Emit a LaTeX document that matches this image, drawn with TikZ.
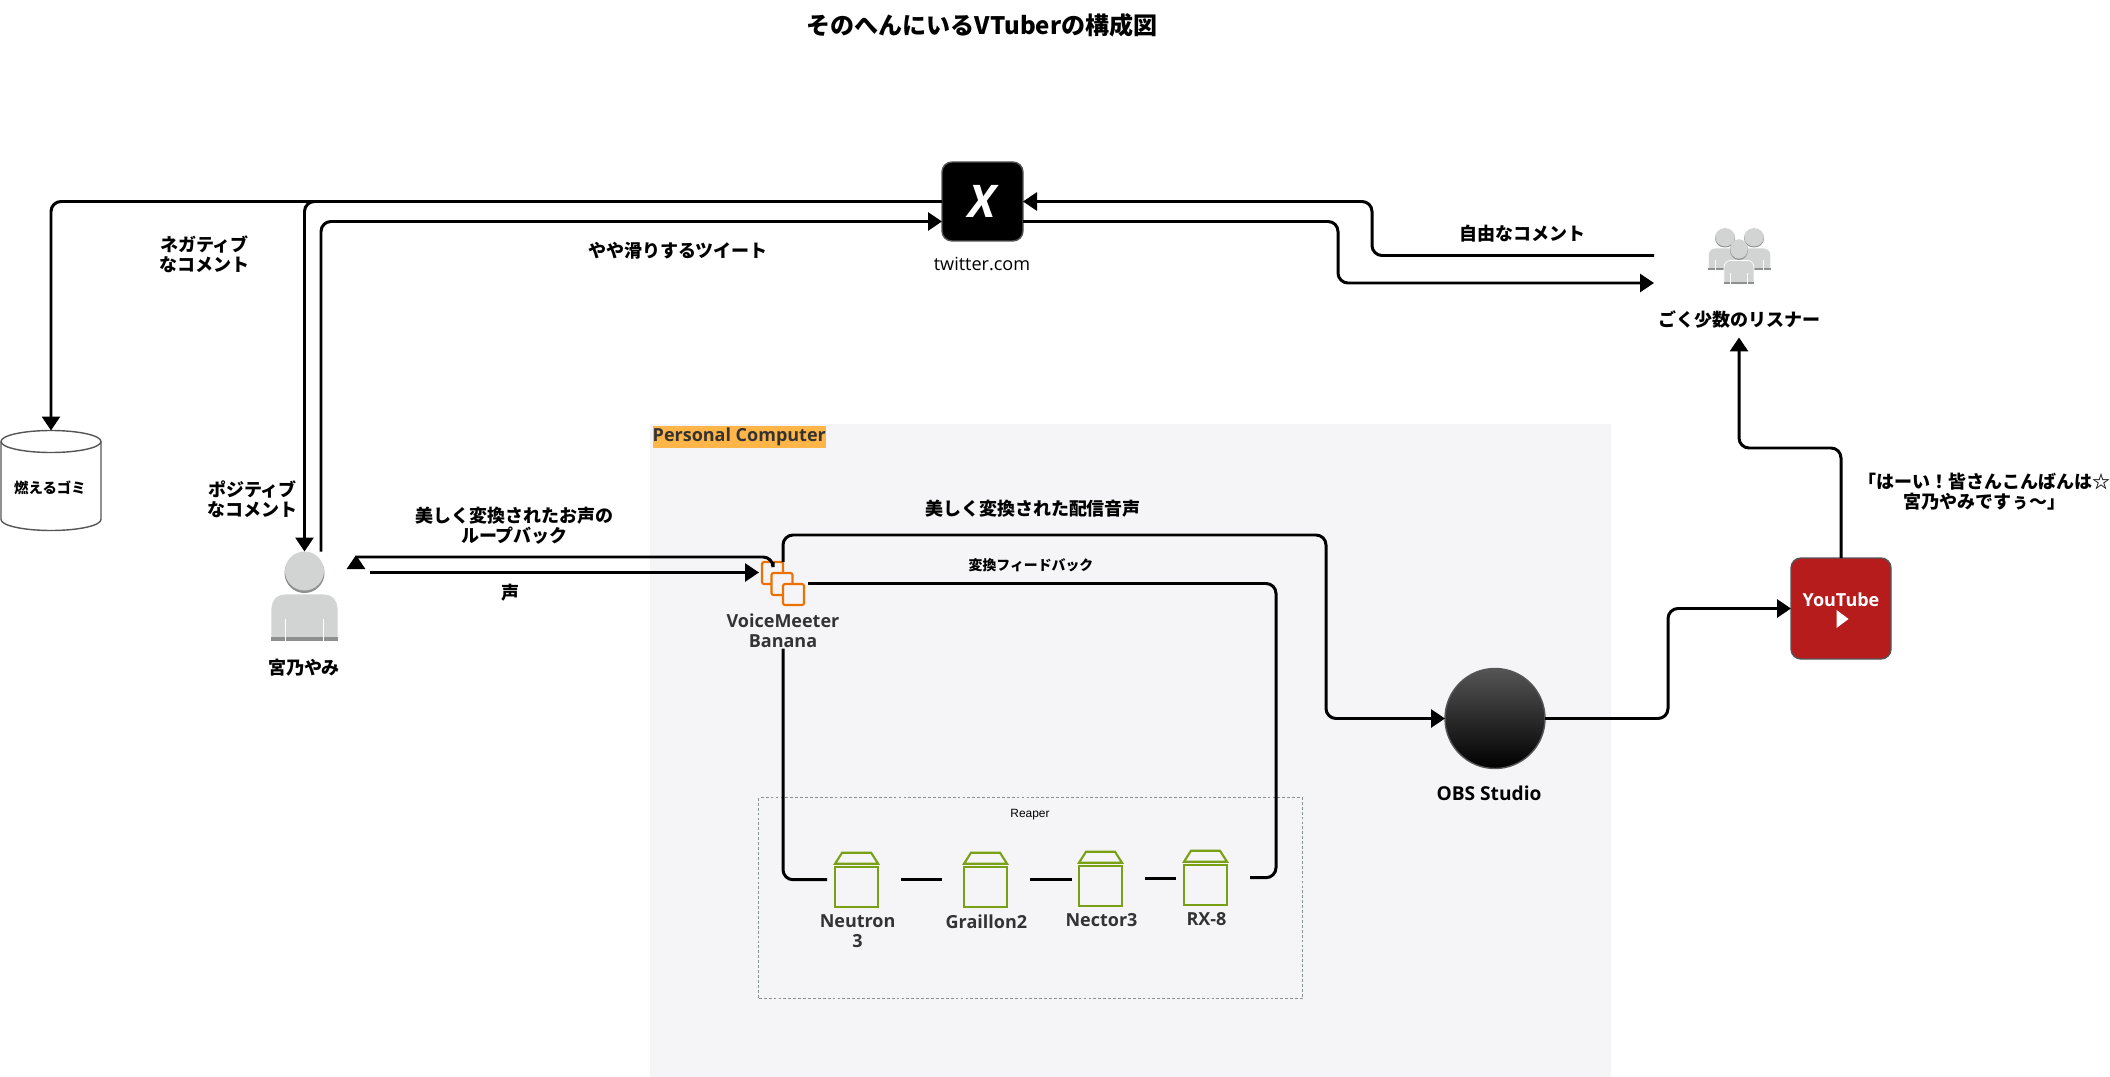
\documentclass[tikz,border=0pt]{standalone}
\usepackage{fontspec}
\setmainfont{Noto Sans CJK JP}
\newfontfamily\opensans{Open Sans}
\newfontfamily\helv{Liberation Sans}
\usepackage{xcolor}
\usetikzlibrary{positioning,arrows.meta,shapes.geometric}
\definecolor{cpc}{HTML}{F5F5F7}
\definecolor{cpclabel}{HTML}{FFB547}
\definecolor{ctext}{HTML}{333333}
\definecolor{cdash}{HTML}{879196}
\definecolor{corange}{HTML}{ED7100}
\definecolor{cgreen}{HTML}{7AA116}
\definecolor{cred}{HTML}{B71C1C}
\definecolor{cedge}{HTML}{555555}
\definecolor{cperson}{HTML}{D2D3D3}
\definecolor{cpersondark}{HTML}{8E8F8F}
\newcommand{\lblfont}{\fontsize{5.12}{5.7}\selectfont\bfseries}
\newcommand{\pluginicon}[1]{
  \draw[pluginline] (#1.south west) rectangle ([yshift=0.397cm]#1.south east);
  \draw[pluginline] ([yshift=0.43cm]#1.south west) -- ([shift={(0.07,0.54)}]#1.south west)
    -- ([shift={(-0.07,0.54)}]#1.south east) -- ([yshift=0.43cm]#1.south east) -- cycle;
}
\tikzset{
  person/.pic={
    \fill[cpersondark] (0,0.23) circle (0.2);
    \fill[cperson] (0,0.25) circle (0.195);
    \fill[cperson, draw=white, line width=0.2pt] (-0.335,-0.45) -- (-0.335,-0.14)
      .. controls (-0.335,-0.02) and (-0.26,0.02) .. (-0.19,0.02) -- (0.19,0.02)
      .. controls (0.26,0.02) and (0.335,-0.02) .. (0.335,-0.14) -- (0.335,-0.45) -- cycle;
    \fill[cpersondark] (-0.335,-0.45) rectangle (0.335,-0.41);
    \draw[white, line width=0.4pt] (-0.19,-0.23) -- (-0.19,-0.455) (0.19,-0.23) -- (0.19,-0.455);
  }
}

\begin{document}
\begin{tikzpicture}[
    % Line styles
    line/.style={line width=0.85pt, rounded corners=0.1cm},
    arrow/.style={line, -{Triangle[length=0.14cm, width=0.18cm]}},
    pluginline/.style={draw=cgreen, line width=0.6pt},
    % Text styles
    lbl/.style={font=\lblfont, align=center, inner sep=0pt},
    smalllbl/.style={font=\fontsize{3.95}{4.6}\selectfont\bfseries, align=center, inner sep=0pt},
    toollbl/.style={font=\lblfont\opensans, align=center, inner sep=0pt, text=ctext},
    % Box styles
    iconspot/.style={inner sep=0pt, outer sep=0pt},
    plugin/.style={iconspot, minimum width=0.43cm, minimum height=0.54cm},
    vmsquare/.style={draw=corange, fill=cpc, line width=0.6pt, rounded corners=0.02cm},
    appbox/.style={draw=cedge, line width=0.4pt, rounded corners=0.1cm, inner sep=0pt, outer sep=0pt},
  ]
  \useasboundingbox (0,0) rectangle (21.10,-10.77);

  % ===== Personal Computer =====
  \node[fill=cpc, anchor=north west, minimum width=9.61cm, minimum height=6.54cm, inner sep=0pt]
    (pc) at (6.49,-4.235) {};
  \node[fill=cpclabel, anchor=north west, minimum width=1.73cm, minimum height=0.22cm, inner sep=0pt,
        font=\lblfont\opensans, text=ctext] (pclabel) at (6.52,-4.25) {Personal Computer};
  \node[draw=cdash, dash pattern=on 0.8pt off 0.6pt, line width=0.25pt, anchor=north west, minimum width=5.44cm,
        minimum height=2.01cm, inner sep=0pt] (reaper) at (7.584,-7.973) {};
  \node[font=\fontsize{3.4}{4}\selectfont\helv, inner sep=0pt] (reaperlabel) at (10.30,-8.147) {Reaper};

  % Title
  \node[font=\fontsize{6.84}{8}\selectfont\bfseries, inner sep=0pt] (title) at (9.82,-0.25)
    {そのへんにいるVTuberの構成図};

  % ===== LEFT: Trash and VTuber =====
  \node[iconspot, minimum width=1.0cm, minimum height=1.0cm] (trash) at (0.51,-4.805) {};
  \draw[draw=cedge, line width=0.4pt, fill=white] ([yshift=-0.11cm]trash.north west)
    arc[start angle=180, end angle=0, x radius=0.5cm, y radius=0.11cm]
    -- ([yshift=0.11cm]trash.south east)
    arc[start angle=0, end angle=-180, x radius=0.5cm, y radius=0.11cm] -- cycle;
  \draw[draw=cedge, line width=0.4pt] ([yshift=-0.11cm]trash.north west)
    arc[start angle=180, end angle=360, x radius=0.5cm, y radius=0.11cm];
  \node[font=\fontsize{4.1}{5}\selectfont\bfseries, inner sep=0pt] (trashlabel) at (0.50,-4.88) {燃えるゴミ};

  \pic at (3.045,-5.96) {person};
  \node[iconspot, minimum width=0.67cm, minimum height=0.89cm] (yami) at (3.045,-5.96) {};
  \node[lbl] (yamilabel) at (3.04,-6.68) {宮乃やみ};

  % ===== TOP: X =====
  \node[appbox, fill=black, minimum width=0.81cm, minimum height=0.79cm, text=white,
        font=\fontsize{12.8}{13}\selectfont\opensans\bfseries\itshape] (xicon) at (9.825,-2.015) {X};
  \node[font=\fontsize{5.14}{6}\selectfont\opensans, inner sep=0pt] (xlabel) at (9.82,-2.64) {twitter.com};

  % ===== RIGHT: Listeners =====
  \pic[xscale=0.5, yscale=0.47] at (17.25,-2.49) {person};
  \pic[xscale=0.5, yscale=0.47] at (17.54,-2.49) {person};
  \pic[xscale=0.45, yscale=0.5] at (17.39,-2.615) {person};
  \node[lbl, minimum width=1.70cm, minimum height=0.345cm] (listeners) at (17.39,-3.195) {ごく少数のリスナー};

  % ===== VoiceMeeter =====
  \node[iconspot, minimum width=0.42cm, minimum height=0.43cm] (vm) at (7.83,-5.835) {};
  \draw[vmsquare] (7.62,-5.62) rectangle (7.83,-5.84);
  \draw[vmsquare] (7.715,-5.73) rectangle (7.925,-5.95);
  \draw[vmsquare] (7.83,-5.84) rectangle (8.04,-6.05);
  \node[toollbl] (vmlabel) at (7.83,-6.31) {VoiceMeeter\\Banana};

  % ===== Reaper plugins =====
  \node[plugin] (neutron) at (8.566,-8.797) {};
  \node[plugin] (graillon) at (9.855,-8.797) {};
  \node[plugin] (nector) at (11.005,-8.787) {};
  \node[plugin] (rx) at (12.055,-8.777) {};
  \pluginicon{neutron}
  \pluginicon{graillon}
  \pluginicon{nector}
  \pluginicon{rx}
  \node[toollbl] (neutronlabel) at (8.576,-9.31) {Neutron\\3};
  \node[toollbl] (graillonlabel) at (9.864,-9.217) {Graillon2};
  \node[toollbl] (nectorlabel) at (11.015,-9.20) {Nector3};
  \node[toollbl] (rxlabel) at (12.065,-9.19) {RX-8};

  % ===== OBS and YouTube =====
  \node[circle, draw=cedge, line width=0.4pt, top color=cedge, bottom color=black, minimum size=1.0cm,
        inner sep=0pt, outer sep=0pt] (obs) at (14.95,-7.185) {};
  \node[font=\fontsize{5.45}{6}\selectfont\bfseries\opensans, inner sep=0pt] (obslabel) at (14.89,-7.93) {OBS Studio};
  \node[appbox, fill=cred, minimum width=1.0cm, minimum height=1.01cm] (youtube) at (18.41,-6.085) {};
  \node[font=\lblfont\opensans, text=white, inner sep=0pt] (youtubelabel) at (18.41,-6.0) {YouTube};
  \node[isosceles triangle, isosceles triangle stretches, fill=white, inner sep=0pt,
        minimum height=0.12cm, minimum width=0.18cm] (play) at (18.41,-6.19) {};

  % Arrows: X
  \draw[arrow] (xicon.west) -| (trash.north);
  \draw[arrow] (xicon.west) -| (yami.north);
  \draw[arrow] ([xshift=0.165cm]yami.north) |- ([yshift=-0.2cm]xicon.west);

  % Arrows: listeners
  \coordinate (listenout) at (16.54,-2.555);
  \coordinate (listenin) at (16.54,-2.83);
  \draw[arrow] (listenout) -- (13.72,-2.555) -- (13.72,-2.015) -- (xicon.east);
  \draw[arrow] ([yshift=-0.2cm]xicon.east) -- (13.38,-2.215) -- (13.38,-2.83) -- (listenin);
  \draw[arrow] (youtube.north) -- (18.41,-4.48) -- (17.39,-4.48) -- (listeners.south);

  % Arrows: VTuber and VoiceMeeter
  \coordinate (voiceend) at ([shift={(-0.03,0.11)}]vm.west);
  \draw[line] ([xshift=-0.1cm]vm.north) -- ++(0,0.05) -- ([shift={(0.19,0.39)}]yami.east);
  \draw[arrow] ([shift={(0.18,0.275)}]yami.east) -- ([shift={(0.18,0.41)}]yami.east);
  \draw[arrow] ([xshift=0.32cm]yami.east |- voiceend) -- (voiceend);

  % Arrows: audio
  \draw[arrow] (vm.north) |- (13.26,-5.35) |- (obs.west);
  \draw[arrow] (obs.east) -- (16.68,-7.185) |- (youtube.west);
  \draw[line] ([xshift=0.04cm]vm.east) -- (12.76,-5.835) -- (12.76,-8.777) -- ([xshift=0.23cm]rx.east);
  \draw[line] (vmlabel.south) |- ([xshift=-0.08cm]neutron.west);
  \draw[line] ([xshift=0.23cm]neutron.east) -- ([xshift=-0.22cm]graillon.west);
  \draw[line] ([xshift=0.23cm]graillon.east) -- ([xshift=-0.07cm]nector.west |- graillon.east);
  \draw[line] ([xshift=0.23cm]nector.east) -- ([xshift=-0.08cm]rx.west |- nector.east);

  % Edge labels
  \node[lbl] (neglabel) at (2.045,-2.54) {ネガティブ\\なコメント};
  \node[lbl] (poslabel) at (2.525,-4.99) {ポジティブ\\なコメント};
  \node[lbl] (tweetlabel) at (6.78,-2.505) {やや滑りするツイート};
  \node[lbl] (freelabel) at (15.22,-2.335) {自由なコメント};
  \node[lbl] (helloflabel) at (19.845,-4.92) {「はーい！皆さんこんばんは☆\\宮乃やみですぅ〜」};
  \node[lbl] (looplabel) at (5.145,-5.255) {美しく変換されたお声の\\ループバック};
  \node[lbl] (voicelabel) at (5.10,-5.93) {声};
  \node[lbl] (mixlabel) at (10.33,-5.09) {美しく変換された配信音声};
  \node[smalllbl] (fblabel) at (10.31,-5.657) {変換フィードバック};

\end{tikzpicture}
\end{document}
